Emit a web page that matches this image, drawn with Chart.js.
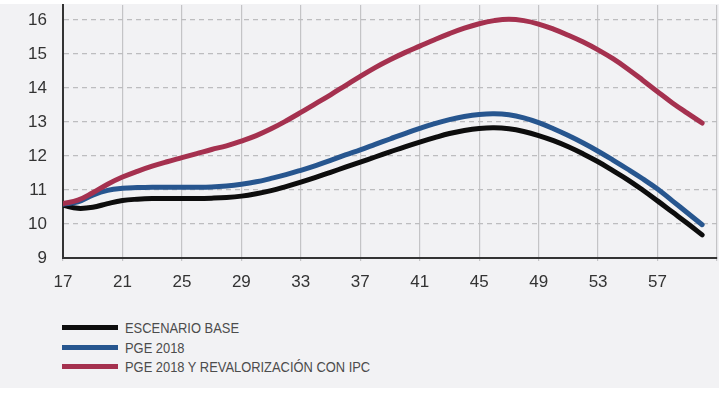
<!DOCTYPE html>
<html>
<head>
<meta charset="utf-8">
<script src="https://cdn.jsdelivr.net/npm/chart.js@4"></script>
<style>
  body { margin: 0; background: #ffffff; }
  #panel { position: absolute; left: 0; top: 4px; width: 719px; height: 384px; background: #f2f2f4; }
  #chart { position: absolute; left: 0; top: -4px; }
  #legend { position: absolute; left: 62px; top: 314px; font-family: "Liberation Sans", Arial, sans-serif; font-size: 15px; color: #4c4c4c; }
  .row { height: 19.5px; display: flex; align-items: center; }
  .swatch { width: 56px; height: 5px; margin-right: 7px; flex: none; }
  .row span { display: inline-block; transform: scaleX(0.86); transform-origin: left center; white-space: nowrap; }
</style>
</head>
<body>
<div id="panel">
  <canvas id="chart" width="722" height="300"></canvas>
  <div id="legend"></div>
</div>
<script>
// years 2017..2060, shown as 17..60
const years = [17,18,19,20,21,22,23,24,25,26,27,28,29,30,31,32,33,34,35,36,37,38,39,40,
               41,42,43,44,45,46,47,48,49,50,51,52,53,54,55,56,57,58,59,60];

const escenarioBase = [10.55,10.46,10.49,10.6,10.69,10.73,10.75,10.75,10.75,10.75,10.76,10.78,10.82,10.89,10.98,11.1,
                       11.23,11.37,11.52,11.67,11.82,11.97,12.12,12.27,12.41,12.54,12.66,12.75,12.81,12.83,12.8,12.72,
                       12.6,12.45,12.27,12.06,11.83,11.57,11.3,11.0,10.68,10.35,10.02,9.68];

const pge2018 = [10.58,10.65,10.85,10.99,11.05,11.07,11.08,11.08,11.08,11.08,11.09,11.12,11.17,11.24,11.34,11.45,
                 11.58,11.72,11.87,12.03,12.18,12.34,12.5,12.66,12.81,12.95,13.07,13.16,13.22,13.24,13.21,13.12,
                 12.98,12.8,12.6,12.38,12.14,11.88,11.61,11.33,11.03,10.68,10.33,9.98];

const pgeIpc = [10.6,10.7,10.92,11.17,11.38,11.55,11.7,11.83,11.95,12.07,12.19,12.3,12.44,12.6,12.8,13.03,
                13.28,13.54,13.8,14.07,14.34,14.6,14.83,15.04,15.23,15.42,15.6,15.76,15.89,15.98,16.02,15.98,
                15.88,15.73,15.55,15.35,15.12,14.86,14.56,14.23,13.89,13.56,13.26,12.97];

const xTicks = [17,21,25,29,33,37,41,45,49,53,57,61];
const xTickLabels = ['17','21','25','29','33','37','41','45','49','53','57',''];
const yTicks = [9,10,11,12,13,14,15,16];

const seriesNames = ['ESCENARIO BASE', 'PGE 2018', 'PGE 2018 Y REVALORIZACIÓN CON IPC'];
const seriesColors = ['#0d0d0d', '#27568f', '#a5314f'];
const seriesData = [escenarioBase, pge2018, pgeIpc];

const datasets = seriesData.map((d, i) => ({
  label: seriesNames[i],
  data: d,
  borderColor: seriesColors[i],
  borderWidth: 5,
  pointRadius: 0,
  fill: false,
  tension: 0.4,
  borderCapStyle: 'round'
})).reverse();

const tickFont = { family: '"Liberation Sans", Arial, sans-serif', size: 17 };

const ctx = document.getElementById('chart').getContext('2d');
new Chart(ctx, {
  type: 'line',
  data: { labels: years, datasets },
  options: {
    responsive: false,
    animation: false,
    layout: { padding: { top: 5, right: 5, left: 0, bottom: 0 } },
    plugins: { legend: { display: false }, tooltip: { enabled: false } },
    scales: {
      x: {
        type: 'linear',
        min: 17,
        max: 61,
        afterBuildTicks: s => { s.ticks = xTicks.map(v => ({ value: v })); },
        afterFit: s => { s.height = 42; s.paddingLeft = 0; s.paddingRight = 0; },
        ticks: {
          callback: (v, i) => xTickLabels[i],
          color: '#333',
          font: tickFont,
          padding: 11,
          maxRotation: 0
        },
        grid: { color: '#c4c4c6', lineWidth: 1.2, drawTicks: true, tickLength: 3 },
        border: { color: '#333', width: 2 }
      },
      y: {
        min: 9,
        max: 16.44,
        afterBuildTicks: s => { s.ticks = yTicks.map(v => ({ value: v })); },
        afterFit: s => { s.width = 63; s.paddingTop = 0; s.paddingBottom = 0; },
        ticks: { color: '#333', font: tickFont, padding: 16 },
        grid: { color: '#bdbdbf', lineWidth: 1.2, drawTicks: false },
        border: { color: '#333', width: 2, dash: [5, 4] }
      }
    }
  }
});

// legend built from the series
const legend = document.getElementById('legend');
seriesNames.forEach((name, i) => {
  const row = document.createElement('div');
  row.className = 'row';
  const sw = document.createElement('div');
  sw.className = 'swatch';
  sw.style.background = seriesColors[i];
  const txt = document.createElement('span');
  txt.textContent = name;
  row.appendChild(sw);
  row.appendChild(txt);
  legend.appendChild(row);
});
</script>
</body>
</html>
